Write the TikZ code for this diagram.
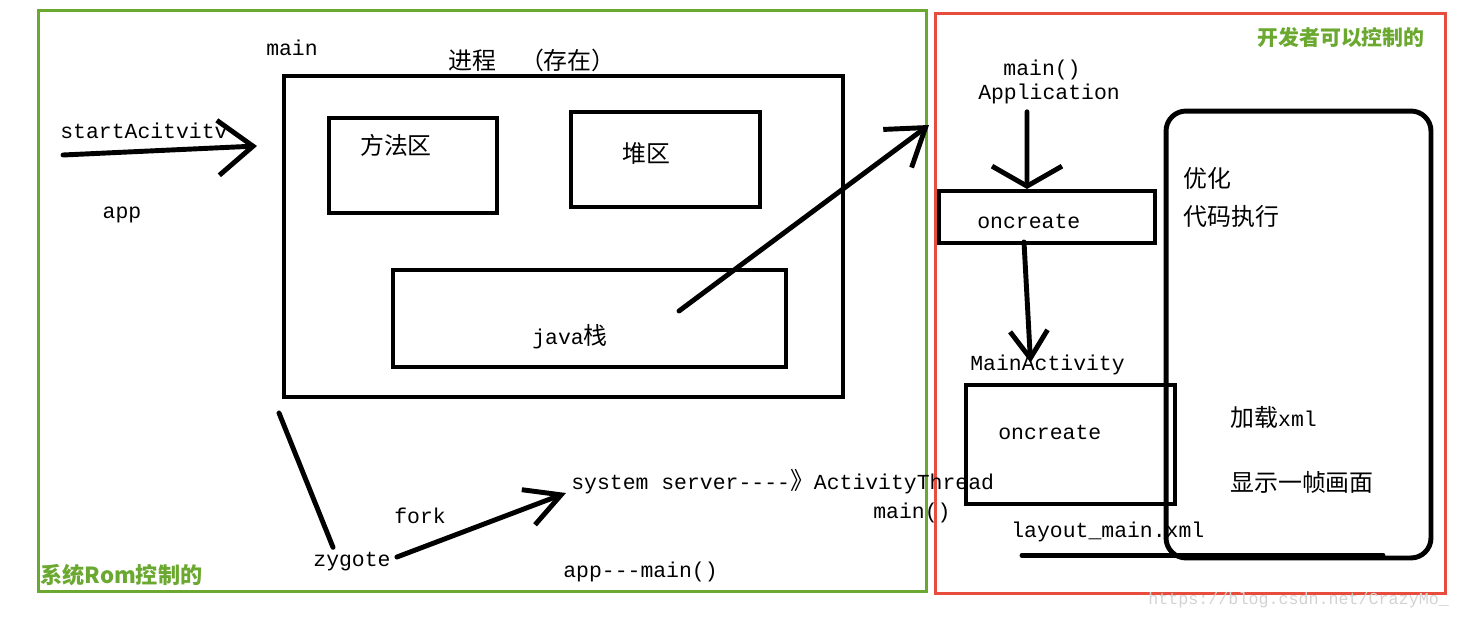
\documentclass[tikz,border=0pt]{standalone}
\usepackage{fontspec}
\setmonofont{Liberation Mono}
\newfontfamily\cjk{Noto Sans CJK SC}
\usetikzlibrary{arrows.meta}
\definecolor{romgreen}{RGB}{106,168,48}
\definecolor{devred}{RGB}{231,76,60}
\newcommand{\zh}[1]{{\cjk\fontsize{13.6}{16}\selectfont #1}}

\tikzset{
  box/.style={draw, line width=2.3pt, inner sep=0pt},
  lbl/.style={font=\ttfamily\fontsize{12.2}{14}\selectfont, inner sep=0pt},
  handarrow/.style={line width=2.8pt, line cap=round, -{Straight Barb[length=0.55cm,width=0.9cm]}},
  frame/.style={draw, line width=1.7pt, inner sep=0pt},
  note/.style={font=\cjk\bfseries\fontsize{11.9}{14}\selectfont, text=romgreen, inner sep=0pt}
}

\begin{document}
\begin{tikzpicture}[x=0.02cm, y=-0.02cm]
  \useasboundingbox (0,0) rectangle (1459,618);
  % the two frames
  \node[frame, draw=romgreen, minimum width=17.78cm, minimum height=11.64cm] (rom) at (482.5,301) {};
  \node[frame, draw=devred, minimum width=10.22cm, minimum height=11.62cm] (dev) at (1190.5,303.5) {};
  \node[note, anchor=west, font=\cjk\bfseries\fontsize{12.6}{14}\selectfont] (romtxt) at (40,575) {系统Rom控制的};
  \node[note, anchor=east] (devtxt) at (1425,38) {开发者可以控制的};

  % process and its areas
  \node[lbl] (main) at (292,48) {main};
  \node[lbl] (proctxt) at (532,60) {\zh{进程　（存在）}};
  \node[box, minimum width=11.18cm, minimum height=6.42cm] (proc) at (563.5,236.5) {};
  \node[box, minimum width=3.36cm, minimum height=1.9cm] (method) at (413,165.5) {};
  \node[lbl] (methodtxt) at (396,145) {\zh{方法区}};
  \node[box, minimum width=3.78cm, minimum height=1.9cm] (heap) at (665.5,159.5) {};
  \node[lbl] (heaptxt) at (646,153) {\zh{堆区}};
  \node[box, minimum width=7.86cm, minimum height=1.94cm] (stack) at (589.5,318.5) {};
  \node[lbl] (stacktxt) at (570,337) {java\zh{栈}};

  % start of the app
  \node[lbl, anchor=west] (start) at (60,131) {startAcitvitv};
  \node[lbl] (app) at (122,215) {app};
  \coordinate (st0) at (63,155);
  \coordinate (st1) at (257,146);
  \draw[handarrow, -{Straight Barb[length=0.7cm,width=1.1cm]}] (st0) -- (st1);

  % zygote and system server
  \node[lbl] (zygote) at (352,562) {zygote};
  \node[lbl] (fork) at (420,516) {fork};
  \node[lbl, anchor=west] (sys) at (571,482) {system server----\zh{》}ActivityThread};
  \node[lbl, anchor=west] (atmain) at (873,513) {main()};
  \node[lbl, anchor=west] (appmain) at (563,572) {app---main()};
  \coordinate (zl) at (279,413);
  \draw[line width=2.8pt, line cap=round] (zl) -- ([xshift=-0.38cm,yshift=0.1cm]zygote.north);
  \draw[handarrow, -{Straight Barb[length=0.7cm,width=0.75cm]}] ([xshift=0.12cm,yshift=0.1cm]zygote.east) -- ([xshift=-0.1cm,yshift=-0.22cm]sys.west);

  % from the java stack to the developer side
  \coordinate (jv0) at (679,311);
  \coordinate (jv1) at (929,125);
  \draw[handarrow, -{Straight Barb[length=0.7cm,width=0.95cm]}] (jv0) -- (jv1);

  % developer side
  \node[lbl] (mainfn) at (1042,70) {main()};
  \node[lbl] (appl) at (1049,94) {Application};
  \node[box, minimum width=4.32cm, minimum height=1.04cm] (oc1) at (1047,217) {};
  \node[lbl, anchor=west] (oc1txt) at (977,221) {oncreate};
  \draw[handarrow, -{Straight Barb[length=0.4cm,width=1.4cm]}] ([xshift=-0.44cm,yshift=-0.15cm]appl.south) -- ([xshift=-0.4cm]oc1.north);
  \node[lbl, anchor=west] (mainact) at (970,365) {MainActivity};
  \draw[handarrow, -{Straight Barb[length=0.55cm,width=0.75cm]}] ([xshift=-0.46cm,yshift=0.06cm]oc1.south) -- ([xshift=-0.34cm,yshift=-0.16cm]mainact.north);
  \node[box, minimum width=4.18cm, minimum height=2.38cm] (oc2) at (1070.5,444.5) {};
  \node[lbl, anchor=west] (oc2txt) at (998,432) {oncreate};
  \node[draw, line width=2.8pt, rounded corners=0.4cm, minimum width=5.3cm, minimum height=8.94cm] (opt) at (1298.5,334.5) {};
  \node[lbl, anchor=west] (opt1) at (1183,178) {\zh{优化}};
  \node[lbl, anchor=west] (opt2) at (1183,216) {\zh{代码执行}};
  \node[lbl, anchor=west] (load) at (1230,417) {\zh{加载}xml};
  \node[lbl, anchor=west] (frm) at (1230,482) {\zh{显示一帧画面}};
  \node[lbl, anchor=west] (layout) at (1011,532) {layout\_main.xml};
  \draw[line width=2.8pt, line cap=round] ([xshift=0.22cm,yshift=-0.26cm]layout.south west) -- ++(361,0);

  \node[lbl, anchor=west, text=gray!35, font=\ttfamily\fontsize{9.5}{11}\selectfont] (wm) at (1148,600) {https://blog.csdn.net/CrazyMo\_};
\end{tikzpicture}
\end{document}
